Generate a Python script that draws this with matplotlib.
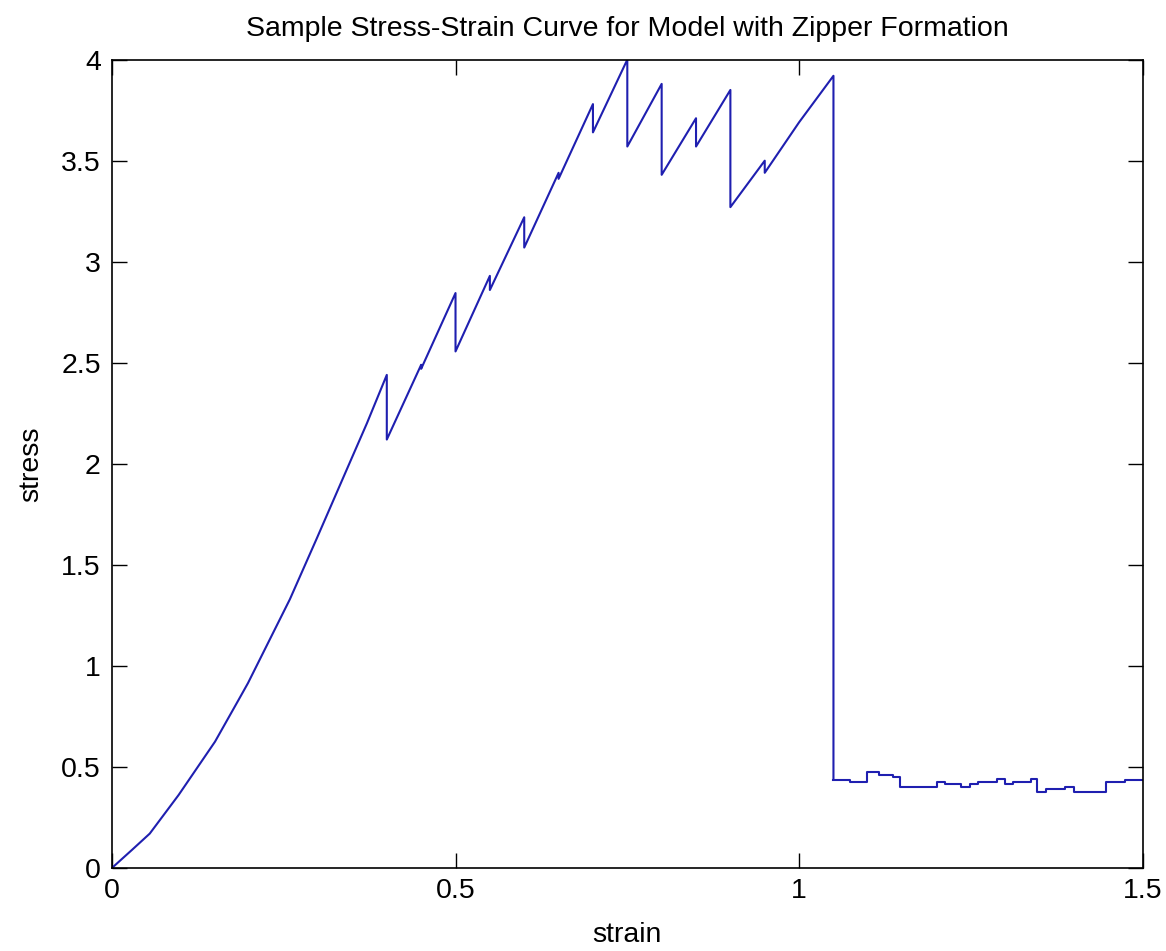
import matplotlib.pyplot as plt

plt.rcParams['font.family'] = ['Liberation Sans', 'DejaVu Sans']

# loading branch with zipper drops (strain, stress)
strain = [0.0, 0.029, 0.055, 0.097, 0.15, 0.184, 0.198, 0.259, 0.298, 0.3415,
          0.371, 0.4, 0.4, 0.45, 0.45, 0.5, 0.5, 0.55, 0.55, 0.6, 0.6,
          0.65, 0.65, 0.7, 0.7, 0.75, 0.75, 0.8, 0.8, 0.85, 0.85,
          0.9, 0.9, 0.95, 0.95, 1.0, 1.05, 1.05]
stress = [0.0, 0.089, 0.17, 0.361, 0.625, 0.83, 0.915, 1.33, 1.63, 1.97,
          2.2, 2.44, 2.12, 2.49, 2.47, 2.845, 2.556, 2.93, 2.86, 3.22, 3.07,
          3.44, 3.41, 3.78, 3.64, 4.0, 3.57, 3.88, 3.43, 3.71, 3.57,
          3.85, 3.27, 3.50, 3.44, 3.69, 3.92, 0.436]

# residual stress after failure (step levels)
tail_strain = [1.05, 1.074, 1.099, 1.117, 1.136, 1.1465, 1.2, 1.212, 1.236,
               1.248, 1.2605, 1.288, 1.299, 1.311, 1.337, 1.346, 1.36, 1.387,
               1.40, 1.447, 1.474, 1.5]
tail_stress = [0.436, 0.426, 0.474, 0.462, 0.45, 0.40, 0.426, 0.416, 0.40,
               0.416, 0.426, 0.44, 0.416, 0.426, 0.44, 0.377, 0.39, 0.40,
               0.377, 0.426, 0.437, 0.437]

fig = plt.figure(figsize=(11.66, 9.51), dpi=100)
ax = fig.add_axes([0.096, 0.0873, 0.884, 0.850])

linecolor = '#1f1fb0'
ax.plot(strain, stress, color=linecolor, lw=1.5)
ax.plot(tail_strain, tail_stress, color=linecolor, lw=1.5, drawstyle='steps-post')

ax.set_xlim(0, 1.5)
ax.set_ylim(0, 4)
ax.set_xticks([0, 0.5, 1, 1.5])
ax.set_xticklabels(['0', '0.5', '1', '1.5'])
ax.set_yticks([0, 0.5, 1, 1.5, 2, 2.5, 3, 3.5, 4])
ax.set_yticklabels(['0', '0.5', '1', '1.5', '2', '2.5', '3', '3.5', '4'])
ax.tick_params(direction='in', length=11, width=1, top=True, right=True,
               labelsize=20.5)
ax.tick_params(axis='y', pad=8)
ax.tick_params(axis='x', pad=7)
for s in ax.spines.values():
    s.set_linewidth(1.2)

ax.set_title('Sample Stress-Strain Curve for Model with Zipper Formation',
             fontsize=20.5, pad=17)
ax.set_xlabel('strain', fontsize=20.5, labelpad=13)
ax.set_ylabel('stress', fontsize=20.5, labelpad=12)

fig.savefig('out.png', dpi=100)
